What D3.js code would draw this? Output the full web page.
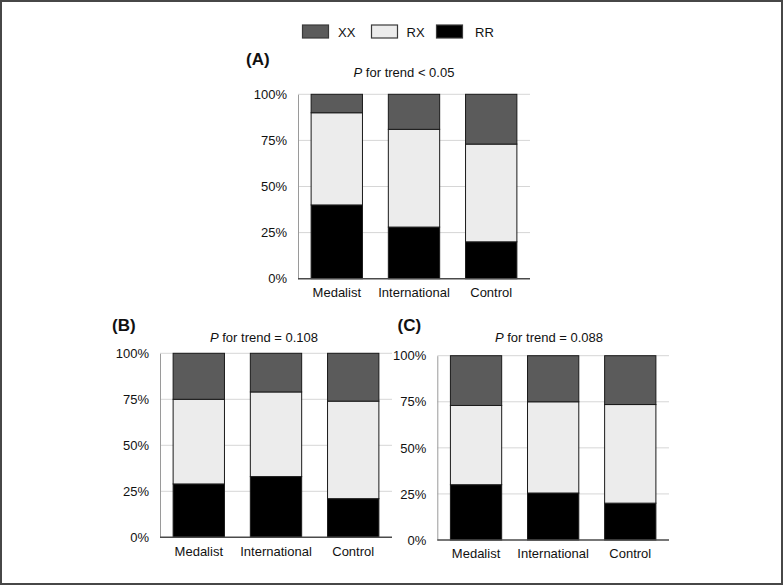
<!DOCTYPE html>
<html>
<head>
<meta charset="utf-8">
<script src="https://cdn.jsdelivr.net/npm/d3@7"></script>
<style>
  html, body { margin: 0; padding: 0; background: #fff; }
  svg { display: block; font-family: "Liberation Sans", Arial, Helvetica, sans-serif; }
</style>
</head>
<body>
<svg id="chart" width="783" height="585"></svg>
<script>
// ---- data ----
const categories = ["Medalist", "International", "Control"];
const seriesKeys = ["RR", "RX", "XX"];           // stacking order, bottom to top
const legendKeys = ["XX", "RX", "RR"];
const yTicks = [0, 25, 50, 75, 100];

const panelLabels = ["(A)", "(B)", "(C)"];
const trendTitles = ["< 0.05", "= 0.108", "= 0.088"];

const aRR = [40, 28, 20];
const aRX = [50, 53, 53];
const aXX = [10, 19, 27];

const bRR = [29, 33, 21];
const bRX = [46, 46, 53];
const bXX = [25, 21, 26];

const cRR = [30, 25.5, 20];
const cRX = [43, 49.5, 53.5];
const cXX = [27, 25, 26.5];

// ---- styles ----
const colors = { XX: "#5b5b5b", RX: "#ececec", RR: "#000000" };

const svg = d3.select("#chart");

// outer frame
svg.append("rect")
  .attr("x", 1).attr("y", 1).attr("width", 781).attr("height", 583)
  .attr("fill", "#fff").attr("stroke", "#474747").attr("stroke-width", 2);

// legend
const legendSwatchX = [302.5, 371.5, 436.5];
const legendTextX = [338, 406.5, 475];
const legend = svg.append("g");
legendKeys.forEach((k, i) => {
  legend.append("rect")
    .attr("x", legendSwatchX[i]).attr("y", 25)
    .attr("width", 26).attr("height", 13)
    .attr("fill", colors[k]).attr("stroke", "#3a3a3a").attr("stroke-width", 1.2);
  legend.append("text")
    .attr("x", legendTextX[i]).attr("y", 36.5)
    .attr("font-size", 13).attr("fill", "#111")
    .text(k);
});

function makeData(rr, rx, xx) {
  return categories.map((c, i) => ({ cat: c, RR: rr[i], RX: rx[i], XX: xx[i] }));
}

const panels = [
  { data: makeData(aRR, aRX, aXX), x0: 298, x1: 530, y0: 94.3, y1: 278.7,
    label: { x: 246, y: 65 }, title: { x: 404, y: 77 } },
  { data: makeData(bRR, bRX, bXX), x0: 160, x1: 392, y0: 353.3, y1: 537.3,
    label: { x: 112, y: 331 }, title: { x: 264, y: 342 } },
  { data: makeData(cRR, cRX, cXX), x0: 437.3, x1: 669, y0: 355.7, y1: 540,
    label: { x: 397.5, y: 331 }, title: { x: 549, y: 342 } }
];

panels.forEach((p, pi) => {
  const g = svg.append("g");
  const x = d3.scaleBand().domain(categories).range([p.x0, p.x1])
    .paddingInner(0.335).paddingOuter(0.17).align(0.5);
  const y = d3.scaleLinear().domain([0, 100]).range([p.y1, p.y0]);

  // gridlines
  g.append("g").selectAll("line").data(yTicks.filter(t => t > 0)).join("line")
    .attr("x1", p.x0).attr("x2", p.x1)
    .attr("y1", d => y(d)).attr("y2", d => y(d))
    .attr("stroke", "#d6d6d6").attr("stroke-width", 1);

  // y axis
  const yAxis = d3.axisLeft(y).tickValues(yTicks).tickFormat(d => d + "%").tickSize(0).tickPadding(11);
  const ya = g.append("g").attr("transform", `translate(${p.x0},0)`).call(yAxis);
  ya.select(".domain").attr("stroke", "#9a9a9a").attr("stroke-width", 1);
  ya.selectAll("text").attr("font-size", 13).attr("fill", "#111")
    .attr("font-family", "'Liberation Sans', Arial, sans-serif");

  // stacked bars
  const stacked = d3.stack().keys(seriesKeys)(p.data);
  g.append("g").selectAll("g").data(stacked).join("g")
    .attr("fill", d => colors[d.key])
    .selectAll("rect").data(d => d).join("rect")
    .attr("x", d => x(d.data.cat))
    .attr("width", x.bandwidth())
    .attr("y", d => y(d[1]))
    .attr("height", d => y(d[0]) - y(d[1]))
    .attr("stroke", "#1a1a1a").attr("stroke-width", 1);

  // x axis
  const xAxis = d3.axisBottom(x).tickSize(0).tickPadding(9);
  const xa = g.append("g").attr("transform", `translate(0,${p.y1})`).call(xAxis);
  xa.select(".domain").attr("stroke", "#4a4a4a").attr("stroke-width", 1.5)
    .attr("d", `M${p.x0},0H${p.x1}`);
  xa.selectAll("text").attr("font-size", 13).attr("fill", "#111")
    .attr("font-family", "'Liberation Sans', Arial, sans-serif");

  // panel label
  g.append("text").attr("x", p.label.x).attr("y", p.label.y)
    .attr("font-size", 17).attr("font-weight", "bold").attr("fill", "#111")
    .text(panelLabels[pi]);

  // trend title
  const t = g.append("text").attr("x", p.title.x).attr("y", p.title.y)
    .attr("text-anchor", "middle").attr("font-size", 13).attr("fill", "#111");
  t.append("tspan").attr("font-style", "italic").text("P");
  t.append("tspan").text(" for trend " + trendTitles[pi]);
});
</script>
</body>
</html>
